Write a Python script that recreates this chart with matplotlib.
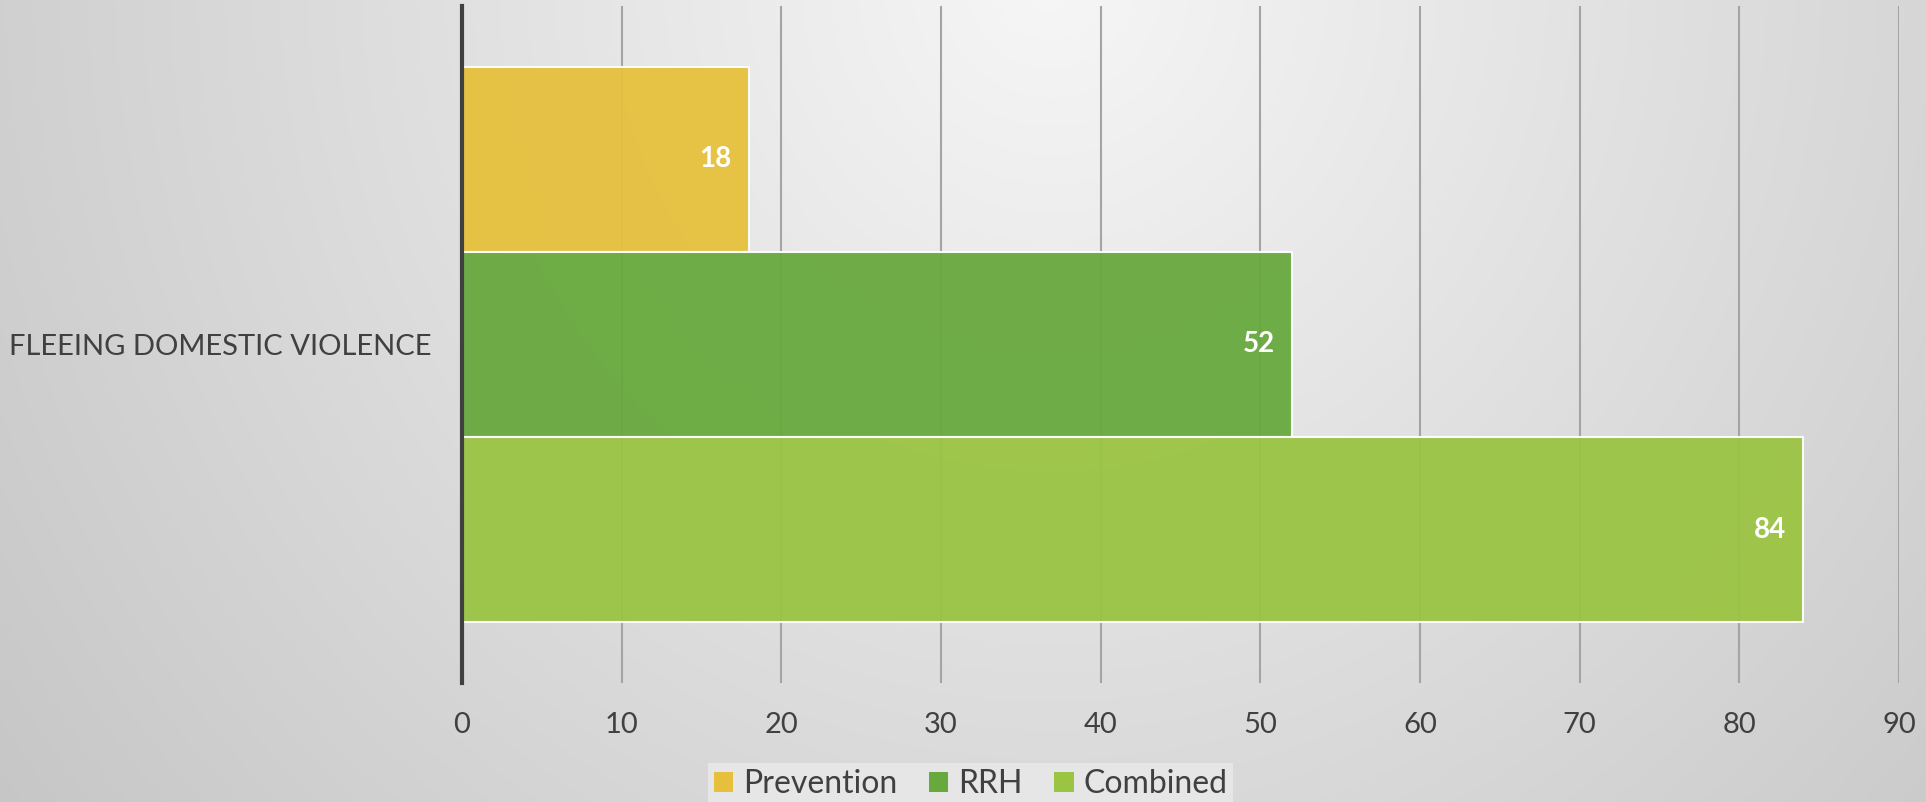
import numpy as np
import matplotlib
matplotlib.use("Agg")
import matplotlib.pyplot as plt
from matplotlib.patches import Patch

plt.rcParams['font.family'] = ['Lato', 'DejaVu Sans']

category = "FLEEING DOMESTIC VIOLENCE"
series = ["Prevention", "RRH", "Combined"]
values = [18, 52, 84]
colors = ["#e6c03c", "#68a93e", "#9bc443"]
x_ticks = [0, 10, 20, 30, 40, 50, 60, 70, 80, 90]

W, H = 1926, 802
fig = plt.figure(figsize=(W / 100, H / 100), dpi=100)

# background: soft radial grey gradient, brightest near the top middle
bg = fig.add_axes([0, 0, 1, 1], zorder=-1)
yy, xx = np.mgrid[0:H, 0:W]
d = np.sqrt(((xx - 1050) / 1050.0) ** 2 + ((yy + 20) / 1100.0) ** 2)
g = np.clip(0.965 - 0.15 * d, 0.75, 1.0)
bg.imshow(np.dstack([g, g, g]), aspect='auto', extent=[0, 1, 0, 1])
bg.axis('off')

ax = fig.add_axes([462 / W, 1 - 683 / H, (1899 - 462) / W, (683 - 6) / H])
ax.set_facecolor('none')

h = 0.2733
offsets = [-h, 0, h]
for name, val, col, off in zip(series, values, colors, offsets):
    ax.barh(off, val, height=h, color=col, alpha=0.95,
            edgecolor=(1, 1, 1, 0.45), linewidth=1.5, zorder=2, label=name)
    ax.text(val - 1.1, off, str(val), ha='right', va='center', color='white',
            fontsize=20, fontweight='bold', zorder=4)

ax.set_xlim(0, 90)
ax.set_ylim(0.5, -0.5)
ax.set_xticks(x_ticks)
ax.set_yticks([0])
ax.set_yticklabels([category])
ax.xaxis.grid(True, color='#a4a4a4', linewidth=1.5, zorder=1)
ax.set_axisbelow(True)
for s in ['top', 'right', 'bottom']:
    ax.spines[s].set_visible(False)
ax.spines['left'].set_color('#404040')
ax.spines['left'].set_linewidth(3)
ax.spines['left'].set_zorder(5)
ax.tick_params(axis='x', length=0, pad=21, labelsize=21, labelcolor='#404040')
ax.tick_params(axis='y', length=0, pad=22, labelsize=21, labelcolor='#404040')

handles = [Patch(facecolor=c, edgecolor='none', label=n) for n, c in zip(series, colors)]
leg = fig.legend(handles=handles, loc='upper center', bbox_to_anchor=(0.504, 1 - 763 / H),
                 ncol=3, frameon=True, fontsize=23, handlelength=0.6, handleheight=0.6,
                 handletextpad=0.3, columnspacing=1.0, borderpad=0.2, borderaxespad=0,
                 fancybox=False)
leg.get_frame().set_facecolor('#e6e6e6')
leg.get_frame().set_edgecolor('none')
leg.get_frame().set_alpha(1)
for t in leg.get_texts():
    t.set_color('#404040')

fig.savefig("out.png", dpi=100)
